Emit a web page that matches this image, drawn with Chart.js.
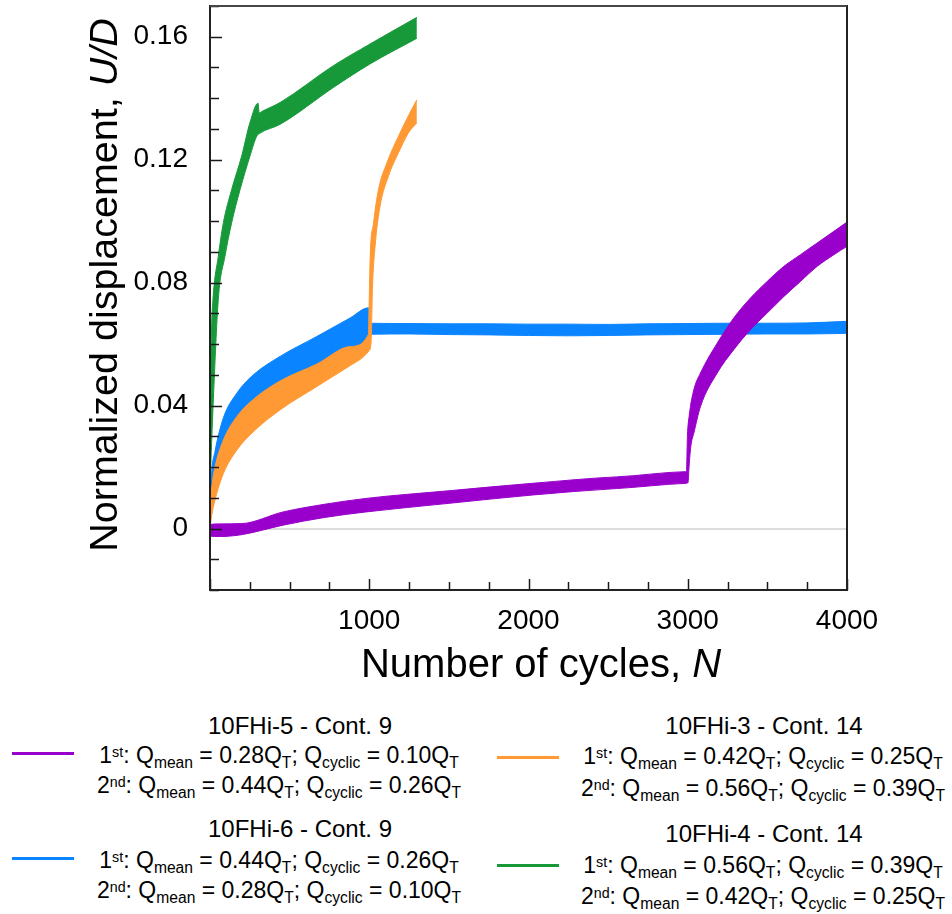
<!DOCTYPE html>
<html>
<head>
<meta charset="utf-8">
<script src="https://cdn.jsdelivr.net/npm/chart.js@4.4.1/dist/chart.umd.min.js"></script>
<style>
  body { margin: 0; background: #fff; font-family: "Liberation Sans", Arial, sans-serif; color: #000; }
  #wrap { position: relative; width: 952px; height: 914px; }
  #chart { position: absolute; left: 0; top: 0; }
  .lg { position: absolute; width: 420px; text-align: center; font-size: 23px; line-height: 23px; white-space: nowrap; }
  .lg.tt { font-size: 24px; }
  .lg .sb { position: relative; top: 0.32em; font-size: 0.68em; }
  .lg .sp { position: relative; top: -0.45em; font-size: 0.62em; }
  .swatch { position: absolute; height: 3px; width: 62px; }
</style>
</head>
<body>
<div id="wrap">
  <canvas id="chart" width="952" height="700"></canvas>
</div>
<script>
// 10FHi-5 (purple)
const fhi5TopN = [0, 2, 50, 198, 459, 720, 980, 1502, 2024, 2552, 2983, 2992, 2998, 3010, 3038, 3080, 3185, 3289, 3394, 3499, 3604, 3708, 3813, 3918, 4000];
const fhi5Top = [0.0012, 0.0013, 0.0015, 0.0016, 0.0054, 0.0079, 0.0098, 0.0123, 0.0147, 0.0168, 0.0185, 0.0188, 0.030, 0.037, 0.0451, 0.0506, 0.0603, 0.0685, 0.0750, 0.0804, 0.0853, 0.0891, 0.0929, 0.0967, 0.0997];
const fhi5BotN = [0, 2, 60, 198, 459, 720, 980, 1502, 2024, 2552, 2990, 3002, 3008, 3020, 3038, 3080, 3185, 3289, 3394, 3499, 3604, 3708, 3813, 3918, 4000];
const fhi5Bot = [-0.0018, -0.0025, -0.0026, -0.0020, 0.0011, 0.0036, 0.0054, 0.0082, 0.0109, 0.0130, 0.0147, 0.0150, 0.020, 0.027, 0.031, 0.0397, 0.0506, 0.0582, 0.0647, 0.0701, 0.0755, 0.0804, 0.0853, 0.0891, 0.0918];

// 10FHi-6 (blue)
const fhi6TopN = [0, 3, 10, 31, 84, 168, 272, 440, 671, 880, 995, 999, 1250, 1500, 1750, 2000, 2250, 2500, 2750, 3000, 3250, 3500, 3750, 4000];
const fhi6Top = [0, 0.010, 0.018, 0.025, 0.036, 0.044, 0.050, 0.0560, 0.0625, 0.0685, 0.0718, 0.0668, 0.0667, 0.0666, 0.0666, 0.0665, 0.0665, 0.0664, 0.0666, 0.0667, 0.0668, 0.0668, 0.0669, 0.0674];
const fhi6BotN = [0, 5, 31, 84, 168, 272, 440, 671, 880, 995, 1002, 1250, 1500, 1750, 2000, 2250, 2500, 2750, 3000, 3250, 3500, 3750, 4000];
const fhi6Bot = [0, 0.006, 0.017, 0.026, 0.033, 0.039, 0.045, 0.051, 0.056, 0.060, 0.0632, 0.0633, 0.0631, 0.0630, 0.0628, 0.0627, 0.0628, 0.0630, 0.0631, 0.0632, 0.0633, 0.0633, 0.0635];

// 10FHi-3 (orange)
const fhi3TopN = [0, 5, 15, 31, 84, 168, 272, 440, 671, 880, 995, 1000, 1006, 1027, 1058, 1111, 1184, 1257, 1299];
const fhi3Top = [0.003, 0.010, 0.015, 0.020, 0.0288, 0.0364, 0.042, 0.048, 0.0535, 0.0592, 0.0632, 0.075, 0.0886, 0.0995, 0.1103, 0.119, 0.1277, 0.1354, 0.1395];
const fhi3BotN = [0, 10, 31, 84, 168, 272, 440, 671, 880, 998, 1012, 1020, 1037, 1068, 1121, 1184, 1247, 1299];
const fhi3Bot = [0, 0.004, 0.0092, 0.0179, 0.0255, 0.0315, 0.0386, 0.0462, 0.0530, 0.0578, 0.061, 0.078, 0.092, 0.1049, 0.1147, 0.1223, 0.1288, 0.132];

// 10FHi-4 (green)
const fhi4TopN = [0, 2, 8, 18, 52, 84, 136, 199, 251, 302, 309, 330, 440, 775, 1000, 1299];
const fhi4Top = [0.016, 0.042, 0.062, 0.074, 0.0886, 0.0995, 0.1103, 0.1212, 0.1321, 0.1384, 0.1352, 0.1358, 0.1386, 0.1506, 0.1575, 0.1663];
const fhi4BotN = [0, 21, 52, 94, 136, 189, 251, 294, 310, 440, 775, 1000, 1299];
const fhi4Bot = [0.014, 0.0419, 0.0745, 0.0886, 0.0995, 0.1103, 0.1212, 0.1277, 0.1285, 0.1315, 0.1435, 0.151, 0.1595];

// legend text
const specimens = ["10FHi-5 - Cont. 9", "10FHi-6 - Cont. 9", "10FHi-3 - Cont. 14", "10FHi-4 - Cont. 14"];
const firstMean = ["0.28", "0.44", "0.42", "0.56"];
const firstCyclic = ["0.10", "0.26", "0.25", "0.39"];
const secondMean = ["0.44", "0.28", "0.56", "0.42"];
const secondCyclic = ["0.26", "0.10", "0.39", "0.25"];

const xTickLabels = [1000, 2000, 3000, 4000];
const yTickLabels = [0, 0.04, 0.08, 0.12, 0.16];

const PURPLE = "#9900cc", BLUE = "#0a84ff", ORANGE = "#ff9933", GREEN = "#17993a";
const FONT = '"Liberation Sans", Arial, sans-serif';

function pts(xs, ys) { return xs.map((x, i) => ({ x: x, y: ys[i] })); }

function band(label, color, order, xsB, ysB, xsT, ysT, lowerIndex) {
    const common = {
        borderColor: color, backgroundColor: color, borderWidth: 1,
        pointRadius: 0, cubicInterpolationMode: 'monotone', order: order
    };
    return [
        Object.assign({ label: label + " lower", data: pts(xsB, ysB), fill: false }, common),
        Object.assign({ label: label + " upper", data: pts(xsT, ysT), fill: { target: lowerIndex } }, common)
    ];
}

const datasets = [].concat(
    band("10FHi-6", BLUE, 4, fhi6BotN, fhi6Bot, fhi6TopN, fhi6Top, 0),
    band("10FHi-4", GREEN, 3, fhi4BotN, fhi4Bot, fhi4TopN, fhi4Top, 2),
    band("10FHi-3", ORANGE, 2, fhi3BotN, fhi3Bot, fhi3TopN, fhi3Top, 4),
    band("10FHi-5", PURPLE, 1, fhi5BotN, fhi5Bot, fhi5TopN, fhi5Top, 6)
);

const isLabel = (arr, v, k) => arr.some(a => Math.abs(a - v) < k);

const framePlugin = {
    id: 'frame',
    afterDraw(chart) {
        const c = chart.ctx, a = chart.chartArea;
        const xs = chart.scales.x, ys = chart.scales.y;
        c.save();
        c.strokeStyle = '#1a1a1a';
        c.lineWidth = 1.5;
        // inward ticks
        ys.ticks.forEach(t => {
            const y = Math.round(ys.getPixelForValue(t.value)) + 0.5;
            const len = isLabel(yTickLabels, t.value, 1e-6) ? 12 : 9;
            c.beginPath(); c.moveTo(a.left, y); c.lineTo(a.left + len, y); c.stroke();
        });
        xs.ticks.forEach(t => {
            const x = Math.round(xs.getPixelForValue(t.value)) + 0.5;
            const len = t.value % 1000 === 0 ? 11 : 8;
            c.beginPath(); c.moveTo(x, a.bottom); c.lineTo(x, a.bottom - len); c.stroke();
        });
        c.lineWidth = 2;
        c.strokeStyle = '#222';
        c.strokeRect(a.left, a.top, a.right - a.left, a.bottom - a.top);
        c.strokeStyle = '#555';
        c.lineWidth = 1.5;
        c.beginPath(); c.moveTo(a.left, a.top); c.lineTo(a.right, a.top); c.stroke();

        // axis titles, with italic variable names
        c.fillStyle = '#000';
        c.textBaseline = 'alphabetic';
        c.textAlign = 'left';
        const fN = '40px ' + FONT, fI = 'italic 40px ' + FONT;
        c.font = fN; const w1 = c.measureText('Number of cycles, ').width;
        c.font = fI; const w2 = c.measureText('N').width;
        let x0 = 541 - (w1 + w2) / 2;
        c.font = fN; c.fillText('Number of cycles, ', x0, 677);
        c.font = fI; c.fillText('N', x0 + w1, 677);

        c.translate(117, 285);
        c.rotate(-Math.PI / 2);
        const fN2 = '39.5px ' + FONT, fI2 = 'italic 39.5px ' + FONT;
        c.font = fN2; const v1 = c.measureText('Normalized displacement, ').width;
        c.font = fI2; const v2 = c.measureText('U/D').width;
        x0 = -(v1 + v2) / 2;
        c.font = fN2; c.fillText('Normalized displacement, ', x0, 0);
        c.font = fI2; c.fillText('U/D', x0 + v1, 0);
        c.restore();
    }
};

function noPad(s) { s.paddingTop = 0; s.paddingBottom = 0; s.paddingLeft = 0; s.paddingRight = 0; }

new Chart(document.getElementById('chart'), {
    type: 'line',
    data: { datasets: datasets },
    options: {
        responsive: false,
        animation: false,
        devicePixelRatio: 1,
        layout: { padding: { left: 0, top: 6, right: 105, bottom: 0 } },
        plugins: { legend: { display: false }, tooltip: { enabled: false } },
        scales: {
            x: {
                type: 'linear', min: 0, max: 4000,
                border: { display: false },
                grid: { display: false, drawTicks: false },
                ticks: {
                    stepSize: 250, autoSkip: false, maxRotation: 0, padding: 14,
                    color: '#000', font: { family: FONT, size: 28 },
                    callback: v => xTickLabels.includes(v) ? String(v) : ''
                },
                afterFit: s => { s.height = 110; noPad(s); }
            },
            y: {
                type: 'linear', min: -0.02, max: 0.17,
                border: { display: false },
                grid: {
                    drawTicks: false, lineWidth: 2,
                    color: c => (c.tick && Math.abs(c.tick.value) < 1e-9) ? '#dddddd' : 'rgba(0,0,0,0)'
                },
                ticks: {
                    stepSize: 0.01, autoSkip: false, padding: 22,
                    color: '#000', font: { family: FONT, size: 28 },
                    callback: v => {
                        if (!isLabel(yTickLabels, v, 1e-6)) return '';
                        return Math.abs(v) < 1e-9 ? '0' : (Math.round(v * 100) / 100).toFixed(2);
                    }
                },
                afterFit: s => { s.width = 210; noPad(s); }
            }
        }
    },
    plugins: [framePlugin]
});

// legend built as real text
const wrap = document.getElementById('wrap');
const legendColors = [PURPLE, BLUE, ORANGE, GREEN];
const legendPos = [
    { sx: 12, sy: 753, tc: 300, lc: 279, tops: [714, 744, 774] },
    { sx: 12, sy: 858, tc: 300, lc: 279, tops: [817, 849, 879] },
    { sx: 497, sy: 757, tc: 764, lc: 763, tops: [714, 745, 777] },
    { sx: 497, sy: 865, tc: 764, lc: 763, tops: [822, 854, 885] }
];
function qLine(ord, mean, cyc) {
    return ord.slice(0, 1) + '<span class="sp">' + ord.slice(1) + '</span>: Q<span class="sb">mean</span> = ' +
        mean + 'Q<span class="sb">T</span>; Q<span class="sb">cyclic</span> = ' + cyc + 'Q<span class="sb">T</span>';
}
specimens.forEach((name, i) => {
    const p = legendPos[i];
    const sw = document.createElement('div');
    sw.className = 'swatch';
    sw.style.left = p.sx + 'px'; sw.style.top = (p.sy - 1) + 'px'; sw.style.background = legendColors[i];
    wrap.appendChild(sw);
    const lines = [
        { html: name, c: p.tc, cls: 'lg tt' },
        { html: qLine('1st', firstMean[i], firstCyclic[i]), c: p.lc, cls: 'lg' },
        { html: qLine('2nd', secondMean[i], secondCyclic[i]), c: p.lc, cls: 'lg' }
    ];
    lines.forEach((ln, k) => {
        const d = document.createElement('div');
        d.className = ln.cls;
        d.innerHTML = ln.html;
        d.style.left = (ln.c - 210) + 'px';
        d.style.top = p.tops[k] + 'px';
        wrap.appendChild(d);
    });
});
</script>
</body>
</html>
